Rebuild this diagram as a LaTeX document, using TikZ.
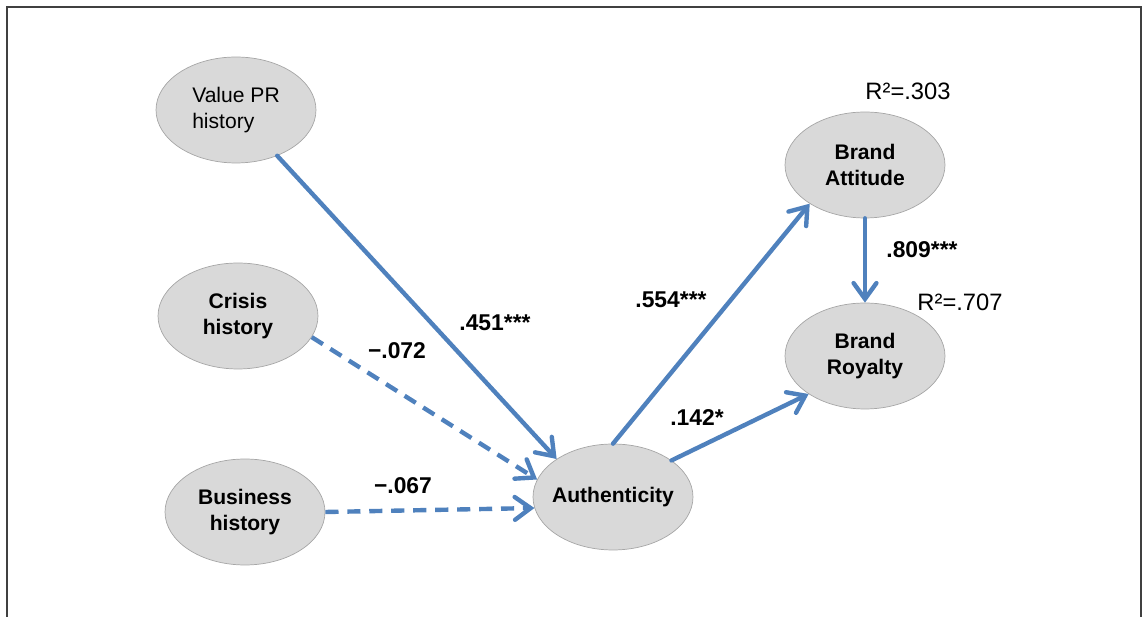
\documentclass[tikz,border=0pt]{standalone}
\usepackage{fontspec}
\setmainfont{Liberation Sans}
\usetikzlibrary{arrows.meta,shapes.geometric}
\definecolor{pathblue}{HTML}{4F81BD}
\definecolor{ovalgray}{HTML}{D9D9D9}
\definecolor{ovalline}{HTML}{A6A6A6}
\definecolor{framegray}{HTML}{404040}

\begin{document}
\begin{tikzpicture}[x=0.02cm,y=-0.02cm,
    construct/.style={ellipse,draw=ovalline,fill=ovalgray,minimum width=3.2cm,minimum height=2.12cm,inner sep=0pt,align=center,font=\fontsize{12}{14.5}\selectfont\bfseries},
    effect/.style={draw=pathblue,line width=2.5pt,line cap=round,-{Straight Barb[length=9pt,width=13pt,line cap=round]}},
    nseffect/.style={effect,line cap=butt,dash pattern=on 7.5pt off 5pt},
    coef/.style={font=\fontsize{13}{15}\selectfont\bfseries},
    rsq/.style={font=\fontsize{13.5}{16}\selectfont}]
    \useasboundingbox (0,0) rectangle (1143,617);
    \draw[framegray,line width=1.1pt] (7,617) -- (7,7) -- (1141,7) -- (1141,617);

    \node[construct,font=\fontsize{12}{14.5}\selectfont,align=left] (vpr) at (236,110) {Value PR\\history};
    \node[construct] (crisis) at (238,316) {Crisis\\history};
    \node[construct] (biz) at (245,512) {Business\\history};
    \node[construct,inner xsep=-2.5pt] (auth) at (613,497) {Authenticity};
    \node[construct] (att) at (865,165) {Brand\\Attitude};
    \node[construct] (roy) at (865,356) {Brand\\Royalty};

    \node[rsq] (r_att) at (908,91) {R²=.303};
    \node[rsq] (r_roy) at (960,302) {R²=.707};

    \node[coef] (b_vpr) at (495,323) {.451***};
    \node[coef] (b_crisis) at (397,351) {−.072};
    \node[coef] (b_biz) at (403,486) {−.067};
    \node[coef] (b_att) at (671,300) {.554***};
    \node[coef] (b_roy) at (697,418) {.142*};
    \node[coef] (b_attroy) at (922,250) {.809***};

    \draw[effect] (vpr.-48) -- (auth.146) ;
    \draw[nseffect] (crisis.-16) -- (auth.167) ;
    \draw[nseffect] (biz.east) -- (auth.188) ;
    \draw[effect] (auth.north) -- (att.215) ;
    \draw[effect] (auth.32) -- (roy.214) ;
    \draw[effect] (att.south) -- (roy.north) ;
\end{tikzpicture}
\end{document}
